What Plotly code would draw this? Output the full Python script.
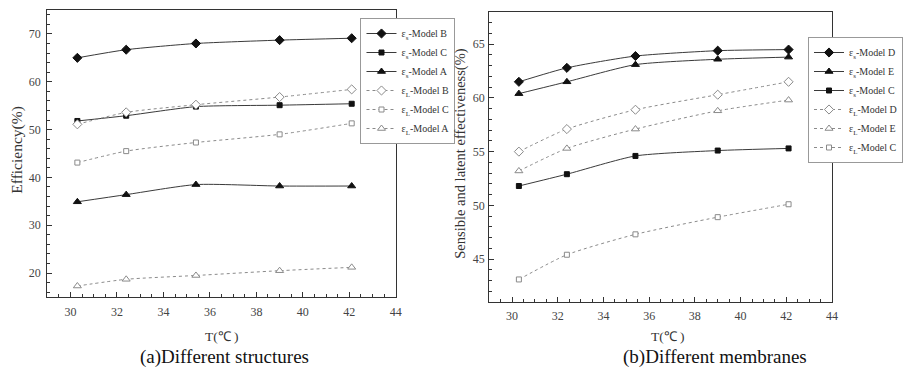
import plotly.graph_objects as go

# Inlet air temperature (°C)
temps = [30.3, 32.4, 35.4, 39.0, 42.1]

# (a) Different structures
a_s_B = [65.0, 66.7, 68.0, 68.7, 69.1]
a_s_C = [51.8, 52.9, 54.8, 55.1, 55.4]
a_s_A = [34.9, 36.4, 38.5, 38.2, 38.2]
a_L_B = [51.1, 53.6, 55.2, 56.8, 58.4]
a_L_C = [43.1, 45.5, 47.3, 49.0, 51.3]
a_L_A = [17.3, 18.7, 19.5, 20.5, 21.2]

# (b) Different membranes
b_s_D = [61.5, 62.8, 63.9, 64.4, 64.5]
b_s_E = [60.4, 61.5, 63.1, 63.6, 63.8]
b_s_C = [51.8, 52.9, 54.6, 55.1, 55.3]
b_L_D = [55.0, 57.1, 58.9, 60.3, 61.5]
b_L_E = [53.2, 55.3, 57.1, 58.8, 59.8]
b_L_C = [43.1, 45.4, 47.3, 48.9, 50.1]

labels_a = ["ε<sub>s</sub>-Model B", "ε<sub>s</sub>-Model C", "ε<sub>s</sub>-Model A",
            "ε<sub>L</sub>-Model B", "ε<sub>L</sub>-Model C", "ε<sub>L</sub>-Model A"]
labels_b = ["ε<sub>s</sub>-Model D", "ε<sub>s</sub>-Model E", "ε<sub>s</sub>-Model C",
            "ε<sub>L</sub>-Model D", "ε<sub>L</sub>-Model E", "ε<sub>L</sub>-Model C"]

FONT = "Liberation Serif, Times New Roman, serif"
LINE = "#3a3a3a"
MARK = "#111111"
DOT = "#8a8a8a"

fig = go.Figure()


def add(y, name, symbol, size, sensible, xa, ya, legend):
    fig.add_trace(go.Scatter(
        x=temps, y=y, name=name, mode="lines+markers",
        xaxis=xa, yaxis=ya, legend=legend,
        line=dict(color=LINE if sensible else DOT, width=1,
                  dash="solid" if sensible else "dot", shape="spline", smoothing=0.6),
        marker=dict(symbol=symbol, size=size,
                    color=MARK if sensible else "white",
                    line=dict(color=MARK if sensible else DOT, width=1)),
    ))


panel_a = [(a_s_B, "diamond", 7, True), (a_s_C, "square", 5, True), (a_s_A, "triangle-up", 7, True),
           (a_L_B, "diamond", 7, False), (a_L_C, "square", 5, False),
           (a_L_A, "triangle-up", 7, False)]
panel_b = [(b_s_D, "diamond", 7, True), (b_s_E, "triangle-up", 7, True), (b_s_C, "square", 5, True),
           (b_L_D, "diamond", 7, False), (b_L_E, "triangle-up", 7, False),
           (b_L_C, "square", 5, False)]

for (y, sym, sz, s), name in zip(panel_a, labels_a):
    add(y, name, sym, sz, s, "x", "y", "legend")
for (y, sym, sz, s), name in zip(panel_b, labels_b):
    add(y, name, sym, sz, s, "x2", "y2", "legend2")

W, H = 903, 374


def px_x(p):
    return p / W


def px_y(p):
    return 1 - p / H


axis_common = dict(
    showline=True, linecolor="#333333", linewidth=1, mirror=True,
    ticks="inside", ticklen=5, tickwidth=1, tickcolor="#333333",
    showgrid=False, zeroline=False,
    tickfont=dict(family=FONT, size=12, color="#444444"),
)

fig.update_layout(
    width=W, height=H, margin=dict(l=0, r=0, t=0, b=0),
    paper_bgcolor="white", plot_bgcolor="white",
    font=dict(family=FONT, color="#222222"),
    xaxis=dict(domain=[px_x(48), px_x(403)], range=[29, 44], dtick=2, anchor="y",
               ticklabelstandoff=4,
               minor=dict(dtick=0.5, ticks="inside", ticklen=3, tickcolor="#333333"),
               **axis_common),
    yaxis=dict(domain=[px_y(297), px_y(10)], range=[15, 75], dtick=10, anchor="x",
               ticklabelstandoff=3,
               minor=dict(dtick=2, ticks="inside", ticklen=3, tickcolor="#333333"),
               **axis_common),
    xaxis2=dict(domain=[px_x(498), px_x(847)], range=[29, 44], dtick=2, anchor="y2",
                ticklabelstandoff=3,
                minor=dict(dtick=0.5, ticks="inside", ticklen=3, tickcolor="#333333"),
                **axis_common),
    yaxis2=dict(domain=[px_y(302), px_y(12)], range=[41, 68], dtick=5, anchor="x2",
                ticklabelstandoff=1,
                minor=dict(dtick=1, ticks="inside", ticklen=3, tickcolor="#333333"),
                **axis_common),
    legend=dict(x=px_x(367), y=px_y(18), xanchor="left", yanchor="top",
                bgcolor="white", bordercolor="#999999", borderwidth=1,
                font=dict(family=FONT, size=10, color="#333333"),
                tracegroupgap=0, itemwidth=30),
    legend2=dict(x=px_x(823), y=px_y(37), xanchor="left", yanchor="top",
                 bgcolor="white", bordercolor="#999999", borderwidth=1,
                 font=dict(family=FONT, size=10, color="#333333"),
                 tracegroupgap=0, itemwidth=30),
)

annotations = [
    dict(text="Efficiency(%)", x=px_x(17), y=px_y(150), textangle=-90, size=15.5),
    dict(text="Sensible and latent effectiveness(%)", x=px_x(468), y=px_y(154),
         textangle=-90, size=14.5),
    dict(text="T(℃ )", x=px_x(226), y=px_y(336), size=13.5),
    dict(text="T(℃ )", x=px_x(680), y=px_y(336), size=13.5),
    dict(text="(a)Different structures", x=px_x(229), y=px_y(357), size=19, color="#111111"),
    dict(text="(b)Different membranes", x=px_x(728), y=px_y(357), size=19, color="#111111"),
]
for a in annotations:
    size = a.pop("size")
    color = a.pop("color", "#333333")
    fig.add_annotation(xref="paper", yref="paper", showarrow=False,
                       xanchor="center", yanchor="middle",
                       font=dict(family=FONT, size=size, color=color), **a)

fig.write_html("out.html")
